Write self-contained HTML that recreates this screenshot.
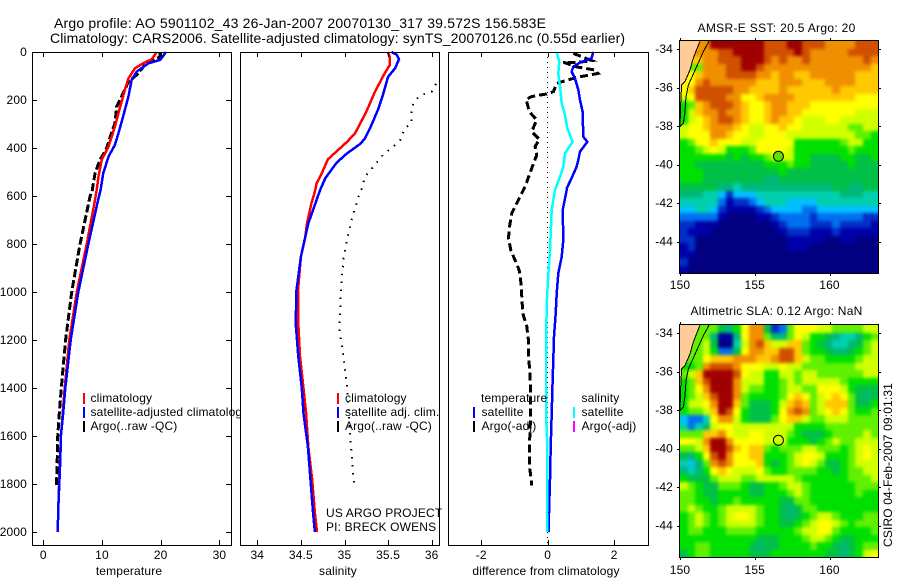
<!DOCTYPE html>
<html lang="en">
<head>
<meta charset="utf-8">
<title>Argo profile AO 5901102_43</title>
<style>
html,body{margin:0;padding:0;background:#fff;width:900px;height:580px;overflow:hidden}
svg{display:block;font-family:"Liberation Sans",sans-serif;font-size:12px;letter-spacing:.15px;fill:#000}
</style>
</head>
<body>
<svg id="chart" xmlns="http://www.w3.org/2000/svg" width="900" height="580" viewBox="0 0 900 580">
  <defs>
    <filter id="map-soften" filterUnits="userSpaceOnUse" x="640" y="10" width="260" height="570" color-interpolation-filters="sRGB">
      <feGaussianBlur stdDeviation="1.7"/>
    </filter>
  </defs>
  <rect x="0" y="0" width="900" height="580" fill="#fff"/>
  <text x="54" y="28" font-size="14" style="letter-spacing:0" textLength="492">Argo profile: AO 5901102_43 26-Jan-2007 20070130_317 39.572S 156.583E</text>
  <text x="50" y="43" font-size="14" style="letter-spacing:0" textLength="575">Climatology: CARS2006. Satellite-adjusted climatology: synTS_20070126.nc (0.55d earlier)</text>
</svg>
<script>
/* ---------- profile data ---------- */
const depthTicks = [0,200,400,600,800,1000,1200,1400,1600,1800,2000];
const tempTicks = [0,10,20,30];
const salTicks = [34,34.5,35,35.5,36];
const salTickLabels = ['34','34.5','35','35.5','36'];
const diffTicks = [-2,0,2];

const tempClimDepth = [0,30,47,68,110,158,228,311,394,450,519,575,617,801,1000,1200,1400,1506,1603,1700,1800,1900,2000];
const tempClim = [19.3,18.5,17,15.6,14.5,13.9,13.1,12.2,11.1,9.95,9.4,9.1,8.8,7.4,5.7,4.43,3.65,3.3,3,2.85,2.7,2.55,2.45];
const tempSatDepth = [0,18,33,47,82,117,186,269,339,387,436,506,575,610,801,1000,1200,1400,1500,1600,1700,1800,1900,2000];
const tempSat = [20.85,20.4,19.9,17.9,15.9,15.05,14.5,13.6,12.8,12.2,11.1,10.2,9.77,9.4,7.67,5.97,4.67,3.75,3.4,3,2.9,2.73,2.56,2.45];
const tempArgoDepth = [0,20,40,54,96,124,172,228,297,353,401,450,506,575,603,801,1000,1200,1400,1506,1603,1686,1783,1808];
const tempArgo = [19.9,19.9,18.2,17.3,15.9,14.5,13.6,12.5,12.2,11.4,10.8,9.65,8.8,8.35,7.95,6.25,4.83,3.8,3.07,2.73,2.45,2.39,2.28,2.28];

const salClimDepth = [0,20,54,89,165,249,339,374,401,447,505,547,575,631,714,769,853,992,1131,1269,1367,1506,1644,1783,1922,2000];
const salClim = [35.495,35.52,35.52,35.46,35.35,35.25,35.12,35.03,34.95,34.81,34.74,34.68,34.665,34.62,34.57,34.55,34.5,34.467,34.47,34.49,34.52,34.56,34.585,34.63,34.66,34.685];
const salSatDepth = [0,12,30,68,103,179,235,304,360,383,422,461,526,575,658,714,853,992,1131,1269,1401,1506,1644,1783,1922,2000];
const salSat = [35.54,35.6,35.625,35.58,35.5,35.44,35.39,35.31,35.235,35.18,35.03,34.91,34.78,34.72,34.64,34.585,34.5,34.45,34.44,34.47,34.51,34.53,34.58,34.61,34.64,34.66];
const salArgoDepth = [133,165,179,200,235,297,318,367,394,429,478,519,592,603,714,853,992,1154,1269,1401,1506,1644,1804];
const salArgo = [36.05,36,35.885,35.81,35.77,35.77,35.69,35.64,35.56,35.44,35.33,35.235,35.18,35.16,35.07,34.99,34.96,34.94,34.99,35.03,35.05,35.075,35.11];

const diffTempSatDepth = [0,26,44,61,82,110,158,200,249,353,374,415,450,478,526,568,575,658,783,853,922,1006,1089,1186,1269,1401,1506,1645,1783,1922,2000];
const diffTempSat = [1.37,1.32,.97,.77,.72,.82,.92,.97,1.05,1.07,1.19,.97,.92,.87,.72,.57,.57,.45,.47,.42,.32,.27,.24,.19,.17,.14,.12,.09,.07,.04,.03];
const diffSalSatDepth = [0,40,89,144,214,262,318,374,422,478,519,575,658,825,922,1047,1269,1401,1547,1645,1922,2000];
const diffSalSat = [.27,.35,.32,.37,.42,.52,.59,.75,.52,.47,.37,.22,.12,.07,.02,-.03,-.05,-.05,-.04,-.01,-.02,-.01];
const diffTempArgoDepth = [6,22,36,44,42,61,75,89,106,124,131,165,175,179,186,197,249,283,332,364,394,429,485,561,617,672,728,776,825,908,936,1019,1089,1144,1200,1269,1339,1408,1506,1645,1728,1783,1806];
const diffTempArgo = [.77,1.07,1.32,.87,.47,.82,1.42,1.52,.87,.42,.27,.17,-.03,-.23,-.48,-.65,-.55,-.33,-.48,-.25,-.38,-.33,-.48,-.68,-.88,-1.08,-1.15,-1.18,-1.11,-.86,-.82,-.78,-.75,-.63,-.58,-.58,-.53,-.52,-.51,-.55,-.55,-.49,-.49];

/* ---------- map data: colour class per 0.5-degree cell ---------- */
const sstGrid = [
[13,13,13,13,15,15,15,15,15,15,15,14,14,14,15,15,14,14,14,13,13,13,13,14,14,14],
[13,13,13,13,13,14,14,15,15,15,15,14,14,14,14,15,14,13,13,13,13,13,14,14,14,14],
[12,12,12,13,13,14,14,14,15,15,15,14,13,14,13,13,14,13,13,13,13,13,13,13,14,13],
[9,9,9,13,13,13,14,14,15,15,14,13,13,13,13,13,13,13,13,13,13,13,13,13,13,12],
[11,11,12,13,13,13,14,14,14,14,13,13,12,13,13,12,12,13,13,13,13,13,13,12,12,12],
[11,11,13,14,13,13,13,13,13,13,12,12,12,13,13,13,12,12,12,13,13,13,13,12,12,12],
[11,12,14,14,14,14,14,13,13,12,12,12,12,13,12,12,12,12,12,12,13,12,12,12,12,12],
[10,11,14,14,14,14,13,13,11,11,12,13,13,13,13,12,12,12,12,12,12,12,12,11,11,11],
[8,9,12,13,14,14,14,13,12,11,11,12,13,13,12,12,12,11,11,11,11,11,11,11,11,11],
[8,10,12,13,13,14,13,13,12,11,11,12,13,13,12,12,11,11,11,11,11,11,11,10,10,10],
[8,10,11,12,13,14,14,13,12,11,11,12,13,12,12,11,10,10,10,11,11,10,10,10,10,10],
[10,11,11,12,13,13,13,12,11,10,10,11,11,12,11,11,10,10,10,10,10,10,9,9,10,10],
[10,11,11,11,13,13,12,11,11,10,10,11,11,11,10,10,10,10,10,10,10,10,10,9,9,8],
[8,9,11,11,12,11,11,11,10,10,11,11,11,11,11,8,8,8,8,8,8,9,10,10,8,8],
[8,8,9,10,11,10,8,8,8,9,11,11,11,11,10,8,8,8,8,8,8,8,9,8,8,8],
[8,8,8,8,8,8,7,8,7,8,8,9,10,10,10,8,8,7,7,7,7,8,8,7,7,8],
[8,8,7,7,7,7,7,7,7,7,7,8,8,8,9,8,8,7,7,7,7,7,8,7,7,7],
[8,8,8,7,7,7,7,7,7,7,7,7,7,8,7,7,7,7,7,7,7,7,7,7,7,7],
[8,8,8,7,7,7,7,7,7,7,7,6,6,7,7,7,7,7,7,7,7,7,7,7,7,7],
[7,7,7,7,7,6,6,5,6,6,6,6,6,6,6,6,6,6,6,6,7,7,6,6,7,7],
[6,6,6,5,5,4,2,4,4,4,5,5,5,5,5,5,5,5,5,5,5,6,6,6,5,5],
[5,5,5,5,5,3,1,2,2,3,4,5,5,5,4,4,4,4,5,5,5,5,5,5,5,5],
[4,4,5,5,4,2,1,1,1,1,2,3,4,4,4,4,3,3,4,4,4,4,4,4,4,4],
[3,3,3,3,3,1,0,0,0,0,1,1,2,3,3,3,3,2,3,3,3,3,3,3,2,2],
[2,2,1,1,1,0,0,0,0,0,0,0,1,2,3,3,3,2,2,2,3,2,2,2,2,1],
[2,1,1,1,0,0,0,0,0,0,0,0,0,1,2,2,2,1,1,1,2,1,1,1,1,1],
[2,2,0,0,0,0,0,0,0,0,0,0,0,0,1,1,1,1,1,0,0,1,1,0,0,0],
[1,2,0,0,0,0,0,0,0,0,0,0,0,0,1,1,1,0,0,0,0,0,0,0,0,0],
[1,1,0,0,0,0,0,0,0,0,0,0,0,0,0,0,0,0,0,0,0,0,0,0,0,0],
[2,0,0,0,0,0,0,0,0,0,0,0,0,0,0,0,0,0,0,0,0,0,0,0,0,0],
[1,0,0,0,0,0,0,0,0,0,0,0,0,0,0,0,0,0,0,0,0,0,0,0,0,0]
];
const slaGrid = [
[9,9,9,9,9,7,6,8,11,13,13,7,2,3,9,11,11,11,10,10,9,9,9,9,10,10],
[9,9,9,9,6,1,1,6,11,13,13,9,6,6,9,11,10,8,8,7,6,5,5,6,8,9],
[9,9,9,10,7,0,0,5,10,13,14,12,10,10,12,12,9,8,7,6,5,5,6,7,9,10],
[9,9,9,10,8,3,3,7,11,13,13,12,12,14,14,12,9,8,8,7,6,6,7,8,9,10],
[9,9,9,11,12,12,12,13,13,13,12,12,13,14,14,12,10,9,9,8,8,8,8,9,10,10],
[8,8,9,13,14,14,14,13,11,11,11,10,10,11,10,10,9,9,9,9,9,9,9,10,10,10],
[9,10,12,15,15,15,15,14,11,10,10,8,8,10,10,9,10,10,9,9,9,9,9,9,10,10],
[8,9,12,14,15,15,15,13,10,10,10,8,8,9,10,9,10,10,10,10,10,9,8,8,8,8],
[8,9,11,13,15,15,15,13,10,9,9,8,8,9,10,10,9,9,11,11,11,10,8,7,7,7],
[8,9,10,12,14,15,15,13,9,8,8,8,8,9,11,12,11,9,10,11,12,11,9,7,6,7],
[8,10,10,11,13,15,15,12,9,7,7,7,8,10,12,13,12,9,10,12,12,12,9,7,7,8],
[8,9,9,10,12,15,14,11,8,7,7,7,8,11,13,14,13,9,10,11,12,11,9,8,8,9],
[4,3,3,5,11,13,13,10,8,7,7,7,9,11,12,12,10,9,9,10,10,10,9,9,9,9],
[5,3,5,6,10,11,11,10,10,10,10,10,10,10,10,8,8,8,8,9,9,9,9,9,9,9],
[9,9,9,12,12,13,11,10,10,11,11,10,10,10,9,8,7,7,7,8,9,9,9,9,10,9],
[11,11,10,13,15,15,13,11,11,11,11,10,10,10,8,8,8,7,8,9,10,9,9,10,10,10],
[9,9,10,12,15,15,14,12,11,12,12,9,8,9,9,9,10,10,9,9,9,8,9,10,11,10],
[7,6,8,11,14,15,13,11,11,12,12,8,8,8,9,10,11,11,10,8,8,8,9,10,11,10],
[5,4,6,9,13,14,13,11,11,11,12,8,7,8,9,10,11,10,9,7,7,8,9,10,10,10],
[6,5,6,8,11,12,11,10,10,10,11,9,8,8,9,9,9,9,8,8,7,8,9,9,10,10],
[8,7,7,7,9,10,10,10,9,9,10,10,10,10,10,9,8,8,8,8,8,8,9,9,9,10],
[10,9,8,7,7,9,9,9,8,7,7,8,8,9,10,10,9,8,8,8,8,8,8,9,9,9],
[9,9,8,7,7,8,8,8,8,7,7,8,8,8,9,10,9,8,8,8,8,8,8,9,8,8],
[9,9,8,8,7,8,8,9,8,8,8,8,8,7,7,9,9,8,8,8,8,8,8,8,8,8],
[9,10,9,8,8,9,10,10,10,10,9,8,8,7,6,7,9,9,8,8,8,8,8,8,8,8],
[8,9,10,9,8,9,10,11,11,10,9,8,8,7,6,7,8,9,10,10,9,8,8,8,9,9],
[8,9,10,9,8,9,10,10,10,10,9,8,8,7,7,8,9,10,11,11,10,9,8,9,9,9],
[8,9,9,8,8,8,9,9,9,9,8,8,8,8,8,9,10,10,11,11,9,8,8,8,8,9],
[8,8,8,8,8,8,8,8,8,8,7,7,7,8,8,8,9,10,10,9,8,7,7,8,8,8],
[8,8,9,9,8,8,8,8,8,7,6,7,7,8,8,8,8,9,8,8,7,6,7,8,9,9],
[7,8,9,9,8,8,8,8,8,7,7,7,8,8,8,8,8,8,8,7,7,6,7,8,10,11]
];
const coastLon = [151.34,151.1,150.85,150.67,150.33,150.11,150.05,150];
const coastLat = [-33.6,-34.05,-34.57,-35.09,-35.7,-35.87,-36.82,-38.03];
const shelfLon = [151.94,151.56,151.11,150.56,150.4,150.33,150.22,150];
const shelfLat = [-33.6,-34.14,-34.92,-35.87,-36.48,-37.33,-37.85,-38.03];
const floatLon = 156.583;
const floatLat = -39.572;
const lonTicks = [150,155,160];
const latTicks = [-34,-36,-38,-40,-42,-44];

const palette = ['#000080','#0000a8','#0030c8','#0070f0','#00c0ff','#00d0b0','#00b878','#00c048','#00e000','#60f000','#d0ff00','#ffff00','#ffc800','#f09000','#d05000','#a00000'];

/* ---------- drawing ---------- */
const svg = document.getElementById('chart');
const NS = 'http://www.w3.org/2000/svg';
function el(tag, attrs, parent) {
  const e = document.createElementNS(NS, tag);
  for (const k in attrs) e.setAttribute(k, attrs[k]);
  (parent || svg).appendChild(e);
  return e;
}
function label(str, x, y, anchor, name, parent) {
  const t = el('text', {x: x, y: y, 'text-anchor': anchor || 'start'}, parent);
  t.textContent = str;
  
  
  return t;
}
const TOP = 52, BOTTOM = 545;
const depthY = d => TOP + 0.24 * d;

function panelFrame(name, left, right, xf, ticks, tickText, xlabel, xlabelX, depthAxis) {
  const g = el('g', {});
  
  
  const bg = el('rect', {x: left, y: TOP, width: right - left, height: BOTTOM - TOP, fill: '#fff'}, g);
  
  
  return {g: g, left: left, right: right, xf: xf, ticks: ticks, tickText: tickText, xlabel: xlabel, xlabelX: xlabelX, depthAxis: depthAxis, name: name};
}
function panelAxes(p) {
  const box = el('rect', {x: p.left + .5, y: TOP + .5, width: p.right - p.left, height: BOTTOM - TOP, fill: 'none', stroke: '#000', 'shape-rendering': 'crispEdges'}, p.g);
  
  
  p.ticks.forEach((v, i) => {
    const x = Math.round(p.xf(v)) + .5;
    const tk = el('path', {d: `M${x} ${BOTTOM}v-5M${x} ${TOP}v5`, stroke: '#000', fill: 'none', 'shape-rendering': 'crispEdges'}, p.g);
    
    
    label(p.tickText[i], p.xf(v), 559, 'middle', p.name + '-x-tick-label', p.g);
  });
  label(p.xlabel, p.xlabelX, 575, 'middle', p.name + '-x-axis-title', p.g);
  if (p.depthAxis) {
    depthTicks.forEach(d => {
      const y = Math.round(depthY(d)) + .5;
      const tk = el('path', {d: `M${p.left} ${y}h5M${p.right} ${y}h-5`, stroke: '#000', fill: 'none', 'shape-rendering': 'crispEdges'}, p.g);
      
      
      label(String(d), p.left - 5, depthY(d) + 4, 'end', 'depth-tick-label', p.g);
    });
  }
}
function series(p, vals, depths, color, width, dash, name) {
  const pts = vals.map((v, i) => p.xf(v).toFixed(1) + ',' + depthY(depths[i]).toFixed(1)).join(' ');
  const a = {points: pts, fill: 'none', stroke: color, 'stroke-width': width, 'shape-rendering': 'crispEdges'};
  if (dash) a['stroke-dasharray'] = dash;
  const l = el('polyline', a, p.g);
  
  
}
function legendRow(p, barX, textX, y, color, str, name) {
  if (color) {
    const b = el('rect', {x: barX, y: y - 5, width: 2, height: 11, fill: color, 'shape-rendering': 'crispEdges'}, p.g);
    
    
  }
  label(str, textX, y + 4, 'start', name, p.g);
}

/* temperature */
const xTemp = t => 43.3 + 5.87 * t;
const p1 = panelFrame('temperature-panel', 32, 231, xTemp, tempTicks, tempTicks.map(String), 'temperature', 129, true);
series(p1, tempArgo, tempArgoDepth, '#000', 3, '8 3', 'temperature-argo-line');
series(p1, tempClim, tempClimDepth, '#f00', 2.5, null, 'temperature-climatology-line');
series(p1, tempSat, tempSatDepth, '#00f', 2.5, null, 'temperature-satellite-line');
panelAxes(p1);
legendRow(p1, 83, 90.5, 398, '#f00', 'climatology', 'legend-climatology');
legendRow(p1, 83, 90.5, 412, '#00f', 'satellite-adjusted climatology', 'legend-satellite-adjusted');
legendRow(p1, 83, 90.5, 426, '#000', 'Argo(..raw -QC)', 'legend-argo-raw');

/* salinity */
const xSal = s => 257.3 + 87.2 * (s - 34);
const p2 = panelFrame('salinity-panel', 240, 439, xSal, salTicks, salTickLabels, 'salinity', 338, false);
series(p2, salArgo, salArgoDepth, '#000', 2, '1.5 6.5', 'salinity-argo-dotted-line');
series(p2, salClim, salClimDepth, '#f00', 2.5, null, 'salinity-climatology-line');
series(p2, salSat, salSatDepth, '#00f', 2.5, null, 'salinity-satellite-line');
panelAxes(p2);
legendRow(p2, 337, 345, 398, '#f00', 'climatology', 'legend-climatology-salinity');
legendRow(p2, 337, 345, 412, '#00f', 'satellite adj. clim.', 'legend-satellite-salinity');
legendRow(p2, 337, 345, 426, '#000', 'Argo(..raw -QC)', 'legend-argo-salinity');
label('US ARGO PROJECT', 326, 517, 'start', 'project-credit', p2.g);
label('PI: BRECK OWENS', 326, 531, 'start', 'pi-credit', p2.g);

/* difference */
const xDiff = v => 547.7 + 33.25 * v;
const p3 = panelFrame('difference-panel', 448, 648, xDiff, diffTicks, diffTicks.map(String), 'difference from climatology', 546, false);
const zero = el('line', {x1: xDiff(0), x2: xDiff(0), y1: TOP, y2: BOTTOM, stroke: '#000', 'stroke-dasharray': '1 4', 'shape-rendering': 'crispEdges'}, p3.g);


series(p3, diffTempArgo, diffTempArgoDepth, '#000', 3, '8 4', 'difference-temperature-argo-line');
series(p3, diffTempSat, diffTempSatDepth, '#00f', 2.5, null, 'difference-temperature-satellite-line');
series(p3, diffSalSat, diffSalSatDepth, '#0ff', 2.5, null, 'difference-salinity-satellite-line');
panelAxes(p3);
legendRow(p3, 0, 481, 398, null, 'temperature', 'legend-heading-temperature');
legendRow(p3, 473, 481.5, 412, '#00f', 'satellite', 'legend-temperature-satellite');
legendRow(p3, 473, 481.5, 426, '#000', 'Argo(-adj)', 'legend-temperature-argo');
legendRow(p3, 0, 581.5, 398, null, 'salinity', 'legend-heading-salinity');
legendRow(p3, 573, 581.5, 412, '#0ff', 'satellite', 'legend-salinity-satellite');
legendRow(p3, 573, 581.5, 426, '#f0f', 'Argo(-adj)', 'legend-salinity-argo');

/* maps */
function drawMap(name, grid, yLat34, mapTitle, titleY, titleWidth, tickLabelY, markerFill) {
  const g = el('g', {});
  
  
  const lonX = lon => 680 + 14.95 * (lon - 150);
  const latY = lat => yLat34 + 19.25 * (-34 - lat);
  const colW = 0.51, rowH = 0.3886, lat0 = -33.6;
  const left = Math.round(lonX(150)), top = Math.round(latY(lat0));
  const right = Math.round(lonX(150 + colW * 26)), bottom = Math.round(latY(lat0 - rowH * 31));
  const clip = el('clipPath', {id: name + '-clip'}, g);
  el('rect', {x: left, y: top, width: right - left, height: bottom - top}, clip);
  const clipped = el('g', {'clip-path': 'url(#' + name + '-clip)'}, g);
  const soft = el('g', {filter: 'url(#map-soften)'}, clipped);
  const nRows = grid.length, nCols = grid[0].length;
  grid.forEach((row, r) => row.forEach((v, c) => {
    let x0 = Math.round(lonX(150 + colW * c)), x1 = Math.round(lonX(150 + colW * (c + 1)));
    let y0 = Math.round(latY(lat0 - rowH * r)), y1 = Math.round(latY(lat0 - rowH * (r + 1)));
    if (c === 0) x0 -= 12;
    if (c === nCols - 1) x1 += 12;
    if (r === 0) y0 -= 12;
    if (r === nRows - 1) y1 += 12;
    const cell = el('rect', {x: x0, y: y0, width: x1 - x0, height: y1 - y0, fill: palette[v], 'shape-rendering': 'crispEdges'}, soft);
    
    
  }));
  const landPts = coastLon.map((lon, i) => lonX(lon).toFixed(1) + ',' + latY(coastLat[i]).toFixed(1));
  landPts.push(left + ',' + top);
  const land = el('polygon', {points: landPts.join(' '), fill: '#ffcc99'}, g);
  
  
  const coast = el('polyline', {points: coastLon.map((lon, i) => lonX(lon).toFixed(1) + ',' + latY(coastLat[i]).toFixed(1)).join(' '), fill: 'none', stroke: '#000', 'shape-rendering': 'crispEdges'}, g);
  
  
  const shelf = el('polyline', {points: shelfLon.map((lon, i) => lonX(lon).toFixed(1) + ',' + latY(shelfLat[i]).toFixed(1)).join(' '), fill: 'none', stroke: '#000', 'shape-rendering': 'crispEdges'}, g);
  
  
  const frame = el('rect', {x: left - .5, y: top - .5, width: right - left + 1, height: bottom - top + 1, fill: 'none', stroke: '#000', 'shape-rendering': 'crispEdges'}, g);
  
  
  lonTicks.forEach(lon => {
    const x = Math.round(lonX(lon)) + .5;
    const tk = el('path', {d: `M${x} ${top}v-3M${x} ${bottom}v3`, stroke: '#000', fill: 'none', 'shape-rendering': 'crispEdges'}, g);
    
    
    label(String(lon), lonX(lon), tickLabelY, 'middle', 'longitude-tick-label', g);
  });
  latTicks.forEach(lat => {
    const y = Math.round(latY(lat)) + .5;
    const tk = el('path', {d: `M${left} ${y}h-3M${right} ${y}h3`, stroke: '#000', fill: 'none', 'shape-rendering': 'crispEdges'}, g);
    
    
    label(String(lat), 673, latY(lat) + 4, 'end', 'latitude-tick-label', g);
  });
  const mk = el('circle', {cx: lonX(floatLon), cy: latY(floatLat), r: 5, fill: markerFill, stroke: '#000'}, g);
  
  
  const ttl = label(mapTitle, 776.5, titleY, 'middle', name + '-title', g);
  ttl.setAttribute('textLength', titleWidth);
}
drawMap('sst-map', sstGrid, 49, 'AMSR-E SST: 20.5 Argo: 20', 32, 158, 289, '#60e000');
drawMap('sla-map', slaGrid, 333, 'Altimetric SLA: 0.12 Argo: NaN', 315, 172, 574, 'none');

const stamp = label('CSIRO 04-Feb-2007 09:01:31', 0, 0, 'start', 'timestamp-label');
stamp.setAttribute('transform', 'translate(892 547) rotate(-90)');
</script>
</body>
</html>
